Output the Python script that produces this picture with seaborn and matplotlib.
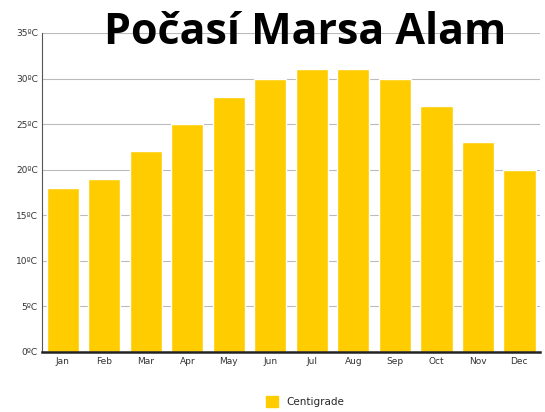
import matplotlib
matplotlib.use("Agg")
import matplotlib.pyplot as plt
import seaborn as sns
import pandas as pd
from matplotlib.patches import Patch

months = ["Jan","Feb","Mar","Apr","May","Jun","Jul","Aug","Sep","Oct","Nov","Dec"]
temps = [18,19,22,25,28,30,31,31,30,27,23,20]
yticks = [0,5,10,15,20,25,30,35]
ylabels = [f"{v}ºC" for v in yticks]

sns.set_style("white")
plt.rcParams['font.family'] = ['DejaVu Sans']
fig = plt.figure(figsize=(5.45,4.12), dpi=100)
ax = fig.add_axes([0.077,0.146,0.914,0.774])
df = pd.DataFrame({"m":months,"t":temps})
sns.barplot(data=df, x="m", y="t", color="#FFCC00", saturation=1, width=0.78, ax=ax)
ax.set_ylim(0,35)
ax.set_xlim(-0.5,11.5)
ax.set_yticks(yticks)
ax.set_yticklabels(ylabels, fontsize=6.5, color="#333333")
ax.tick_params(axis='x', labelsize=6.5, colors="#333333", length=4, color="#888888")
ax.tick_params(axis='y', length=0, pad=3)
ax.set_xticks([i-0.5 for i in range(13)], minor=True)
ax.tick_params(axis='x', which='major', length=0)
ax.tick_params(axis='x', which='minor', length=5, color="#999999")
ax.set_xlabel(""); ax.set_ylabel("")
ax.yaxis.grid(True, color="#bbbbbb", linewidth=0.8)
ax.set_axisbelow(True)
for s in ["top","right"]:
    ax.spines[s].set_visible(False)
ax.spines["left"].set_color("#555555"); ax.spines["left"].set_linewidth(0.8)
ax.spines["bottom"].set_color("#222222"); ax.spines["bottom"].set_linewidth(1.8)
fig.text(0.56, 0.92, "Počasí Marsa Alam", fontsize=31, fontweight="bold",
         family="Open Sans", ha="center", va="center", color="black")
fig.legend(handles=[Patch(color="#FFCC00", label="Centigrade")], loc="center",
           bbox_to_anchor=(0.56,0.026), frameon=False, fontsize=7.5, handlelength=1.2, handleheight=1.2)
fig.savefig("out.png", dpi=100)
